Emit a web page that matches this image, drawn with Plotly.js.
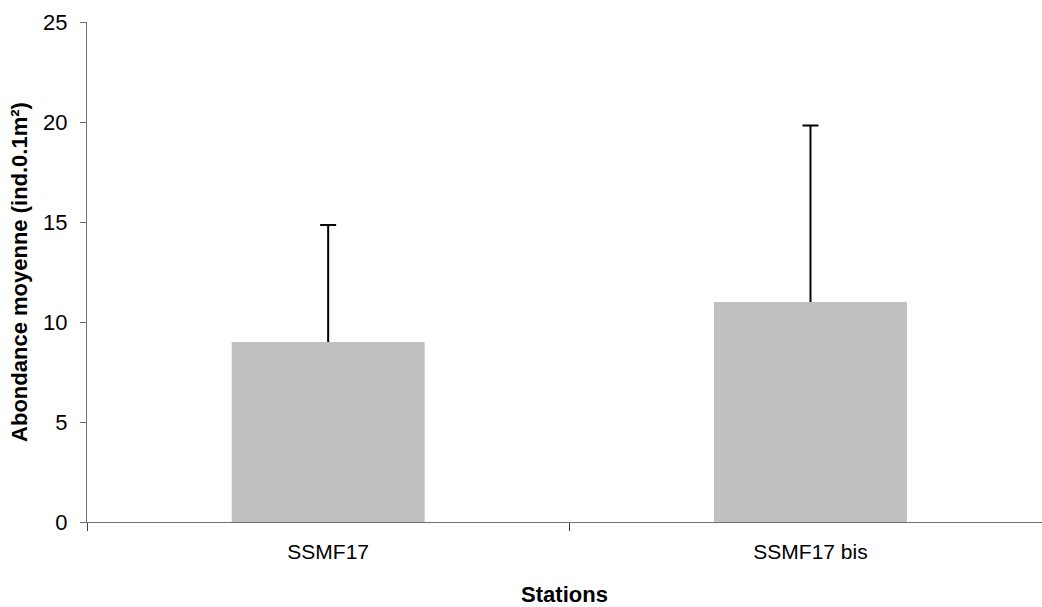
<!DOCTYPE html>
<html>
<head>
<meta charset="utf-8">
<script src="https://cdn.plot.ly/plotly-3.0.1.min.js"></script>
<style>html,body{margin:0;padding:0;background:#fff;}#chart{width:1042px;height:607px;}</style>
</head>
<body>
<div id="chart"></div>
<script>
const categories = ["SSMF17", "SSMF17 bis"];
const meanValues = [9, 11];
const errorPlus = [5.85, 8.83];
const yTickValues = [0, 5, 10, 15, 20, 25];

const errorTops = meanValues.map((v, i) => v + errorPlus[i]);

const barTrace = {
  type: "bar",
  x: categories,
  y: meanValues,
  width: 0.4,
  marker: {color: "#c0c0c0", line: {width: 0}},
  error_y: {type: "data", array: errorPlus, symmetric: false, arrayminus: [0, 0], color: "#000000", thickness: 2, width: 0},
  hoverinfo: "none"
};

// caps of the error bars (only the upper whisker has a cap)
const capTrace = {
  type: "scatter",
  mode: "markers",
  x: categories,
  y: errorTops,
  marker: {size: 1, color: "rgba(0,0,0,0)"},
  error_y: {type: "data", array: [0, 0], symmetric: true, color: "#000000", thickness: 2, width: 8},
  hoverinfo: "none"
};

const layout = {
  width: 1042,
  height: 607,
  margin: {l: 87, r: 0, t: 22, b: 85, pad: 0},
  paper_bgcolor: "#ffffff",
  plot_bgcolor: "#ffffff",
  showlegend: false,
  font: {family: "Liberation Sans, Arial, sans-serif", size: 22, color: "#000000"},
  xaxis: {
    type: "category",
    range: [-0.5, 1.48],
    tickson: "boundaries",
    ticks: "outside",
    ticklen: 8,
    tickcolor: "#404040",
    tickwidth: 1,
    showline: true,
    linecolor: "#707070",
    linewidth: 1,
    showgrid: false,
    zeroline: false,
    tickfont: {size: 21},
    ticklabelstandoff: 11,
    title: {text: "<b>Stations</b>", font: {size: 22}, standoff: 24}
  },
  yaxis: {
    range: [0, 25],
    tickvals: yTickValues,
    ticktext: yTickValues.map(String),
    ticks: "outside",
    ticklen: 6,
    tickcolor: "#707070",
    tickwidth: 1,
    showline: true,
    linecolor: "#707070",
    linewidth: 1,
    showgrid: false,
    zeroline: false,
    tickfont: {size: 22},
    ticklabelstandoff: 8,
    title: {text: "<b>Abondance moyenne (ind.0.1m²)</b>", font: {size: 22}, standoff: 9}
  }
};

Plotly.newPlot("chart", [barTrace, capTrace], layout, {staticPlot: true, displayModeBar: false});
</script>
</body>
</html>
